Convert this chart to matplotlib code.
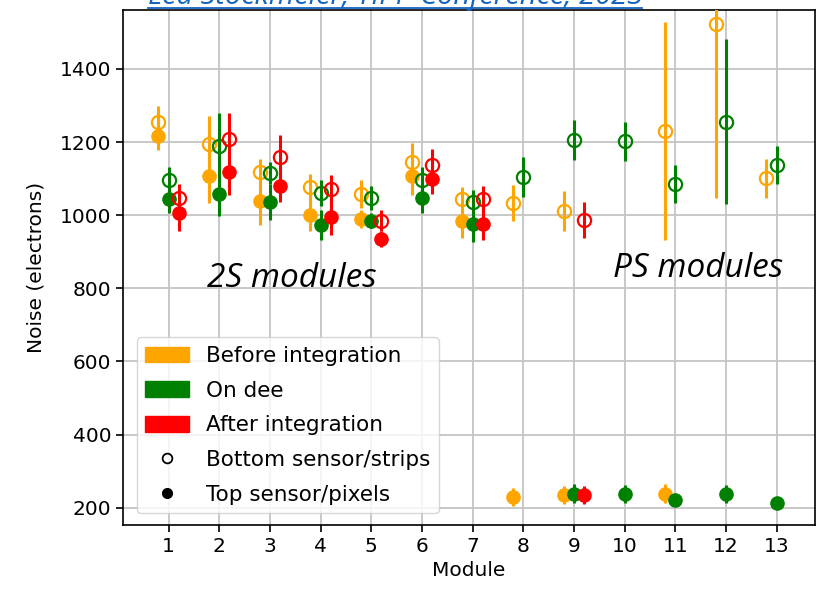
import numpy as np
import matplotlib
matplotlib.use('Agg')
import matplotlib.pyplot as plt
from matplotlib.patches import Patch
from matplotlib.lines import Line2D

nan = np.nan
modules = np.arange(1, 14)

# noise per module, bottom sensor (strips) = open, top sensor (pixels) = filled
before_bot = [1256, 1195, 1117, 1077, 1058, 1145, 1044, 1033, 1012, nan, 1229, 1522, 1101]
before_bot_err = [43, 77, 36, 36, 37, 52, 33, 50, 55, nan, 298, 474, 54]
before_top = [1217, 1106, 1038, 1001, 990, 1106, 983, 230, 234, nan, 239, nan, nan]
before_top_err = [40, 73, 66, 43, 25, 50, 45, 25, 25, nan, 25, nan, nan]

dee_bot = [1095, 1190, 1115, 1060, 1048, 1095, 1037, 1105, 1206, 1202, 1085, 1256, 1136]
dee_bot_err = [36, 89, 30, 35, 33, 36, 32, 55, 55, 53, 53, 225, 52]
dee_top = [1045, 1059, 1035, 974, 985, 1048, 977, nan, 239, 238, 220, 238, 214]
dee_top_err = [40, 62, 49, 41, 20, 41, 49, nan, 25, 25, 15, 25, 15]

after_bot = [1048, 1208, 1160, 1071, 985, 1138, 1044, nan, 988, nan, nan, nan, nan]
after_bot_err = [37, 71, 58, 39, 28, 43, 37, nan, 49, nan, nan, nan, nan]
after_top = [1006, 1117, 1081, 995, 935, 1099, 976, nan, 234, nan, nan, nan, nan]
after_top_err = [48, 63, 45, 48, 23, 41, 43, nan, 25, nan, nan, nan, nan]

plt.rcParams['font.size'] = 14.5

fig = plt.figure(figsize=(8.28, 5.89), dpi=100)
ax = fig.add_axes([0.1486, 0.1087, 0.8357, 0.8743])

groups = [
    ('orange', -0.2, before_bot, before_bot_err, before_top, before_top_err),
    ('green', 0.0, dee_bot, dee_bot_err, dee_top, dee_top_err),
    ('red', 0.2, after_bot, after_bot_err, after_top, after_top_err),
]
for color, dx, bot, bot_err, top, top_err in groups:
    x = modules + dx
    ax.errorbar(x, top, yerr=top_err, fmt='o', color=color, ms=9.5, elinewidth=2.2, zorder=3)
    ax.errorbar(x, bot, yerr=bot_err, fmt='o', color=color, mfc='none', ms=9.5, mew=1.6,
                elinewidth=2.2, zorder=3)

ax.set_xlim(0.1, 13.76)
ax.set_ylim(153, 1561)
ax.set_xticks(modules)
ax.set_yticks(np.arange(200, 1401, 200))
ax.grid(True, color='#c4c4c4', linewidth=1.3)
ax.set_axisbelow(True)
ax.tick_params(length=5, width=1.2)
for s in ax.spines.values():
    s.set_linewidth(1.2)
ax.set_xlabel('Module')
ax.set_ylabel('Noise (electrons)', labelpad=10)

ax.text(1.76, 805, '2S modules', family='Open Sans', style='italic', fontsize=24, va='baseline')
ax.text(9.77, 832, 'PS modules', family='Open Sans', style='italic', fontsize=24, va='baseline')

handles = [
    Patch(color='orange', label='Before integration'),
    Patch(color='green', label='On dee'),
    Patch(color='red', label='After integration'),
    Line2D([], [], ls='none', marker='o', mfc='none', mec='black', ms=7, mew=1.3,
           label='Bottom sensor/strips'),
    Line2D([], [], ls='none', marker='o', color='black', ms=7, label='Top sensor/pixels'),
]
ax.legend(handles=handles, loc='lower left', bbox_to_anchor=(0.02, 0.023), borderaxespad=0,
          fontsize=15.5, handlelength=2.0, handleheight=0.75, labelspacing=0.68,
          framealpha=0.8)

# source line at the top edge
fig.text(148 / 828, 1 - 4 / 589, 'Lea Stockmeier, TIPP Conference, 2023', color='#1565c0',
         family='Open Sans', style='italic', fontsize=21, va='baseline')
fig.add_artist(Line2D([148 / 828, 642 / 828], [1 - 7.5 / 589] * 2, color='#1565c0',
                      lw=1.3, transform=fig.transFigure))

fig.savefig('out.png', dpi=100)
